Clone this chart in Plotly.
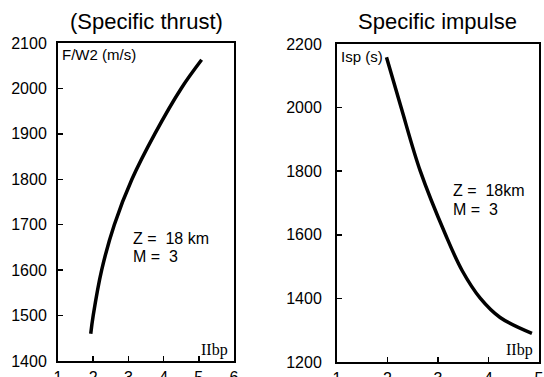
import plotly.graph_objects as go

# ---- data ----
bpr_thrust = [1.93, 2.00, 2.24, 2.60, 3.10, 3.75, 4.50, 5.08]
specific_thrust = [1460, 1500, 1600, 1700, 1800, 1900, 2000, 2063]

bpr_isp = [1.98, 2.27, 2.65, 3.15, 3.48, 3.84, 4.23, 4.86]
specific_impulse = [2158, 2000, 1800, 1600, 1487, 1400, 1340, 1290]

x1_ticks = [1, 2, 3, 4, 5, 6]
y1_ticks = [1400, 1500, 1600, 1700, 1800, 1900, 2000, 2100]
x2_ticks = [1, 2, 3, 4, 5]
y2_ticks = [1200, 1400, 1600, 1800, 2000, 2200]

W, H = 544, 377
def px(x):
    return x / W
def py(y):
    return 1 - y / H

SANS = "Liberation Sans, Arial, sans-serif"
SERIF = "Liberation Serif, Times New Roman, serif"

fig = go.Figure()
fig.add_trace(go.Scatter(x=bpr_thrust, y=specific_thrust, mode="lines",
                         line=dict(color="black", width=3.5, shape="spline", smoothing=1.0),
                         xaxis="x", yaxis="y", showlegend=False, hoverinfo="skip"))
fig.add_trace(go.Scatter(x=bpr_isp, y=specific_impulse, mode="lines",
                         line=dict(color="black", width=3.5, shape="spline", smoothing=1.0),
                         xaxis="x2", yaxis="y2", showlegend=False, hoverinfo="skip"))

axis_common = dict(showgrid=False, zeroline=False, showline=True, mirror=True,
                   linecolor="black", linewidth=2, ticks="inside", ticklen=5,
                   tickwidth=1.5, tickcolor="black", automargin=False,
                   tickfont=dict(family=SANS, size=16, color="black"))

fig.update_layout(
    width=W, height=H,
    margin=dict(l=0, r=0, t=0, b=0, pad=0, autoexpand=False),
    showlegend=False,
    paper_bgcolor="white", plot_bgcolor="white",
    xaxis=dict(domain=[px(58), px(234)], range=[1, 6], tickvals=x1_ticks,
               ticklabelstandoff=1, anchor="y", **axis_common),
    yaxis=dict(domain=[py(361), py(43)], range=[1400, 2100], tickvals=y1_ticks,
               ticklabelstandoff=6, anchor="x", **axis_common),
    xaxis2=dict(domain=[px(337), px(539)], range=[1, 5], tickvals=x2_ticks,
                ticklabelstandoff=1, anchor="y2", **axis_common),
    yaxis2=dict(domain=[py(362), py(44)], range=[1200, 2200], tickvals=y2_ticks,
                ticklabelstandoff=10, anchor="x2", **axis_common),
)

def ann(text, x, y, size, xanchor="left", family=SANS):
    fig.add_annotation(text=text, x=px(x), y=py(y), xref="paper", yref="paper",
                       xanchor=xanchor, yanchor="middle", showarrow=False,
                       font=dict(family=family, size=size, color="black"))

ann("(Specific thrust)", 146, 22, 22, xanchor="center")
ann("Specific impulse", 437, 22, 22, xanchor="center")
ann("F/W2 (m/s)", 60, 55, 15)
ann("Isp (s)", 339, 56, 15)
ann("Z =  18 km", 131, 238, 16)
ann("M =  3", 131, 256, 16)
ann("Z =  18km", 451, 191, 16)
ann("M =  3", 451, 209, 16)
ann("IIbp", 230, 350, 16, xanchor="right", family=SERIF)
ann("IIbp", 535, 350, 16, xanchor="right", family=SERIF)

fig.write_html("out.html",
               config={"displayModeBar": False, "staticPlot": True},
               post_script="document.body.style.margin='0';document.body.style.overflow='hidden';")
